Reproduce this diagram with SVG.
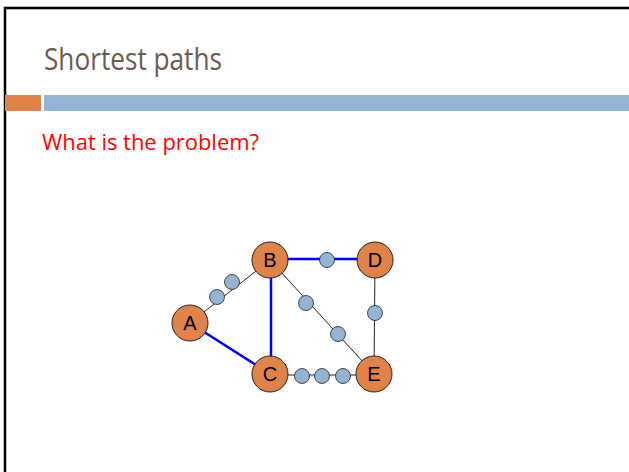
<svg xmlns="http://www.w3.org/2000/svg" width="629" height="472" viewBox="0 0 629 472">
<style>
.big{fill:#e0834a;stroke:#222;stroke-width:1}
.sm{fill:#95b3d3;stroke:#222;stroke-width:0.8}
.lbl{font-family:"Liberation Sans",Arial,sans-serif;font-size:20px;fill:#000;text-anchor:middle}
.thin{stroke:#222;stroke-width:1;fill:none}
.hl{stroke:#0000ff;stroke-width:2.5;fill:none}
</style>
<rect x="0" y="0" width="629" height="472" fill="#fff"/>
<path d="M5,472 V8 H629" fill="none" stroke="#000" stroke-width="2.5"/>
<rect x="5" y="95" width="36" height="16" fill="#e0834a"/>
<rect x="44" y="95" width="585" height="16" fill="#95b4d3"/>
<text x="44" y="70" font-family="'Open Sans','Liberation Sans',sans-serif" font-size="31" fill="#6b5a52" textLength="178" lengthAdjust="spacingAndGlyphs">Shortest paths</text>
<text x="42" y="150" font-family="'Open Sans','Liberation Sans',sans-serif" font-size="21" fill="#ff0000" textLength="217" lengthAdjust="spacingAndGlyphs">What is the problem?</text>
<g id="connectors">
<line class="thin" x1="190" y1="323" x2="270" y2="260"/>
<line class="thin" x1="270" y1="260" x2="374" y2="374"/>
<line class="thin" x1="375" y1="260" x2="374" y2="374"/>
<line class="thin" x1="270" y1="375" x2="374" y2="375"/>
<line class="hl" x1="270" y1="259" x2="375" y2="259"/>
<line class="hl" x1="271" y1="260" x2="271" y2="374"/>
<line class="hl" x1="190" y1="323" x2="270" y2="374"/>
</g>
<g id="waypoints">
<circle class="sm" cx="217" cy="297" r="7.5"/>
<circle class="sm" cx="232" cy="282" r="7.5"/>
<circle class="sm" cx="327" cy="260" r="7.5"/>
<circle class="sm" cx="306" cy="303" r="7.5"/>
<circle class="sm" cx="338" cy="334" r="7.5"/>
<circle class="sm" cx="375" cy="313" r="7.5"/>
<circle class="sm" cx="302" cy="376" r="7.5"/>
<circle class="sm" cx="322" cy="376" r="7.5"/>
<circle class="sm" cx="343" cy="376" r="7.5"/>
</g>
<g id="A"><circle class="big" cx="190" cy="323" r="18"/><text class="lbl" x="190" y="330">A</text></g>
<g id="B"><circle class="big" cx="270" cy="260" r="18"/><text class="lbl" x="270" y="267">B</text></g>
<g id="D"><circle class="big" cx="375" cy="260" r="18"/><text class="lbl" x="375" y="267">D</text></g>
<g id="C"><circle class="big" cx="270" cy="374" r="18"/><text class="lbl" x="270" y="381">C</text></g>
<g id="E"><circle class="big" cx="374" cy="374" r="18"/><text class="lbl" x="374" y="381">E</text></g>
</svg>
